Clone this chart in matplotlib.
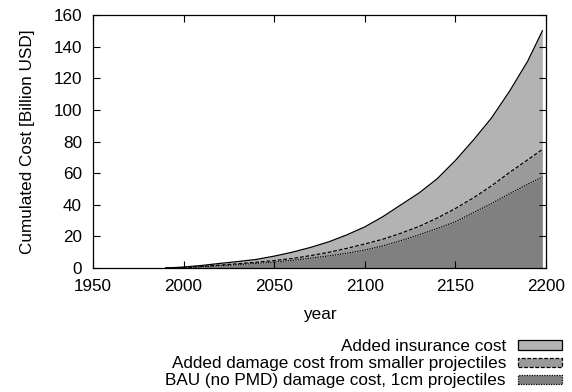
import matplotlib
matplotlib.use("Agg")
import matplotlib.pyplot as plt
from matplotlib.patches import Patch

plt.rcParams['font.family'] = ['Liberation Sans', 'DejaVu Sans']
plt.rcParams['font.size'] = 12.3

# cumulated cost curves [billion USD]
years = [1990, 2000, 2010, 2020, 2030, 2040, 2050, 2060, 2070, 2080, 2090,
         2100, 2110, 2120, 2130, 2140, 2150, 2160, 2170, 2180, 2190, 2198]
total = [0, 0.6, 1.6, 2.9, 4.1, 5.4, 7.5, 10.0, 13.0, 16.5, 20.9,
         26.0, 32.5, 40.0, 47.5, 56.5, 68.0, 81.0, 95.0, 112.0, 131.0, 150.0]
smaller = [0, 0.3, 1.0, 1.8, 2.7, 3.6, 4.7, 6.0, 7.8, 9.9, 12.4,
           15.2, 18.2, 22.0, 26.3, 31.6, 37.6, 44.4, 52.0, 60.5, 68.5, 75.0]
bau = [0, 0.2, 0.7, 1.4, 2.1, 2.9, 3.7, 4.8, 6.2, 7.6, 9.3,
       11.3, 14.0, 17.3, 21.0, 25.0, 29.2, 35.0, 40.8, 47.0, 53.0, 57.5]

labels = ['Added insurance cost',
          'Added damage cost from smaller projectiles',
          'BAU (no PMD) damage cost, 1cm projectiles']
colors = ['#b3b3b3', '#9a9a9a', '#808080']
styles = ['-', (0, (3, 1.5)), (0, (1, 1))]

fig = plt.figure(figsize=(5.72, 3.92), dpi=100)
ax = fig.add_axes([93 / 572, 1 - 268 / 392, 453 / 572, 253 / 392])

ax.fill_between(years, 0, bau, color=colors[2], lw=0)
ax.fill_between(years, bau, smaller, color=colors[1], lw=0)
ax.fill_between(years, smaller, total, color=colors[0], lw=0)
ax.plot(years, total, color='black', lw=0.9, ls=styles[0])
ax.plot(years, smaller, color='black', lw=0.9, ls=styles[1])
ax.plot(years, bau, color='black', lw=0.9, ls=styles[2])

ax.set_xlim(1950, 2200)
ax.set_ylim(0, 160)
ax.set_xticks(range(1950, 2201, 50))
ax.set_yticks(range(0, 161, 20))
ax.tick_params(direction='in', top=True, right=True, length=5, width=0.8)
ax.tick_params(axis='x', pad=8)
ax.tick_params(axis='y', pad=8)
for s in ax.spines.values():
    s.set_linewidth(0.9)
ax.set_xlabel('year', labelpad=9)
ax.set_ylabel('Cumulated Cost [Billion USD]', labelpad=13)

handles = [Patch(facecolor=c, edgecolor='black', linestyle=ls, linewidth=0.9)
           for c, ls in zip(colors, styles)]
fig.legend(handles, labels, loc='upper right', bbox_to_anchor=(0.998, 0.157),
           frameon=False, markerfirst=False, borderpad=0, handlelength=2.6,
           handleheight=0.45, handletextpad=0.7, labelspacing=0.13)

fig.savefig('out.png', dpi=100)
